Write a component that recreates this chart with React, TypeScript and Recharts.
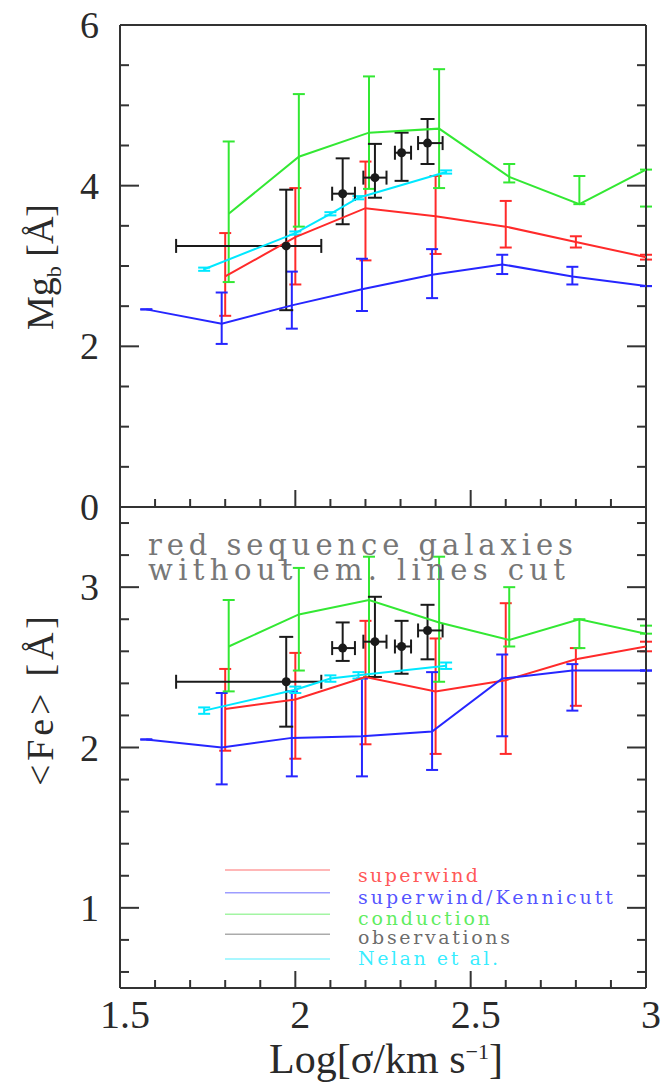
import React from "react";
import { ComposedChart, Scatter, ErrorBar, XAxis, YAxis, Label, Legend } from "recharts";

const W = 668;
const H = 1083;
const PLOT_LEFT = 120;
const PLOT_RIGHT = 646;

const FRAME = "#333";
const INK = "#2a2a2a";
const SERIF = "'Liberation Serif', 'DejaVu Serif', serif";
const PLOT_FONT = "'DejaVu Serif', serif";

const RED = "#ff2a2a";
const BLUE = "#2626ff";
const GREEN = "#33e833";
const CYAN = "#00e8ff";
const BLACK = "#1a1a1a";

// superwind model
const SW_X = [1.8, 2.0, 2.2, 2.4, 2.6, 2.8, 3.0];
const SW_MG = [2.87, 3.36, 3.72, 3.62, 3.49, 3.3, 3.11];
const SW_MG_LO = [2.38, 2.77, 3.07, 3.15, 3.23, 3.23, 3.08];
const SW_MG_HI = [3.41, 3.97, 4.3, 4.12, 3.81, 3.37, 3.14];
const SW_FE = [2.24, 2.3, 2.44, 2.35, 2.42, 2.55, 2.63];
const SW_FE_LO = [1.98, 1.93, 2.02, 1.96, 1.96, 2.26, 2.6];
const SW_FE_HI = [2.49, 2.59, 2.79, 2.68, 2.9, 2.62, 2.66];

// superwind + Kennicutt IMF
const SK_X = [1.575, 1.79, 1.99, 2.19, 2.39, 2.59, 2.79, 3.0];
const SK_MG = [2.46, 2.28, 2.51, 2.71, 2.89, 3.02, 2.87, 2.75];
const SK_MG_LO = [2.46, 2.03, 2.22, 2.44, 2.6, 2.9, 2.77, 2.75];
const SK_MG_HI = [2.46, 2.67, 2.93, 3.09, 3.21, 3.14, 2.99, 2.75];
const SK_FE = [2.05, 2.0, 2.06, 2.07, 2.1, 2.43, 2.48, 2.48];
const SK_FE_LO = [2.05, 1.77, 1.82, 1.82, 1.86, 2.07, 2.23, 2.48];
const SK_FE_HI = [2.05, 2.34, 2.35, 2.43, 2.47, 2.58, 2.52, 2.48];

// conduction model
const CD_X = [1.81, 2.01, 2.21, 2.41, 2.61, 2.81, 3.0];
const CD_MG = [3.65, 4.36, 4.66, 4.71, 4.11, 3.77, 4.2];
const CD_MG_LO = [2.8, 3.49, 3.96, 3.97, 4.04, 3.77, 3.74];
const CD_MG_HI = [4.55, 5.14, 5.36, 5.45, 4.27, 4.12, 4.2];
const CD_FE = [2.63, 2.83, 2.92, 2.78, 2.67, 2.8, 2.71];
const CD_FE_LO = [2.35, 2.48, 2.44, 2.41, 2.63, 2.62, 2.71];
const CD_FE_HI = [2.92, 3.12, 3.19, 3.19, 3.0, 2.8, 2.76];

// Nelan et al.
const NL_X = [1.74, 2.0, 2.1, 2.18, 2.43];
const NL_MG = [2.96, 3.41, 3.65, 3.85, 4.17];
const NL_MG_LO = [2.94, 3.39, 3.63, 3.83, 4.15];
const NL_MG_HI = [2.98, 3.43, 3.67, 3.87, 4.19];
const NL_FE = [2.23, 2.36, 2.43, 2.45, 2.51];
const NL_FE_LO = [2.21, 2.34, 2.41, 2.43, 2.49];
const NL_FE_HI = [2.25, 2.38, 2.45, 2.47, 2.53];

// observed red sequence
const OB_X = [1.974, 2.135, 2.227, 2.303, 2.377];
const OB_X_LO = [1.66, 2.105, 2.194, 2.284, 2.35];
const OB_X_HI = [2.074, 2.17, 2.26, 2.33, 2.42];
const OB_MG = [3.25, 3.9, 4.1, 4.41, 4.53];
const OB_MG_LO = [2.45, 3.52, 3.85, 4.06, 4.27];
const OB_MG_HI = [3.95, 4.34, 4.52, 4.66, 4.83];
const OB_FE = [2.41, 2.62, 2.66, 2.63, 2.73];
const OB_FE_LO = [2.13, 2.54, 2.44, 2.46, 2.55];
const OB_FE_HI = [2.69, 2.78, 2.94, 2.79, 2.89];

const X_DOMAIN: [number, number] = [1.5, 3];
const X_MAJOR = [1.5, 2, 2.5, 3];
const MG_DOMAIN: [number, number] = [0, 6];
const MG_MAJOR = [0, 2, 4, 6];
const FE_DOMAIN: [number, number] = [0.5, 3.5];
const FE_MAJOR = [1, 2, 3];

const LEGEND_NAMES = ["superwind", "superwind/Kennicutt", "conduction", "observations", "Nelan et al."];
const LEGEND_COLORS = [RED, BLUE, GREEN, "#444", CYAN];

function steps(from: number, to: number, step: number) {
  const out: number[] = [];
  for (let v = from; v <= to + 1e-9; v += step) out.push(Math.round(v * 100) / 100);
  return out;
}

const X_TICKS = steps(1.5, 3, 0.1);
const MG_TICKS = steps(0, 6, 0.5);
const FE_TICKS = steps(0.6, 3.4, 0.2);

type Row = { x: number; y: number; ey: number[]; ex?: number[] };

function rows(xs: number[], ys: number[], lo: number[], hi: number[], xlo?: number[], xhi?: number[]): Row[] {
  return xs.map((x, i) => ({
    x,
    y: ys[i],
    ey: [ys[i] - lo[i], hi[i] - ys[i]],
    ex: xlo && xhi ? [x - xlo[i], xhi[i] - x] : undefined,
  }));
}

type Series = { name: string; color: string; data: Row[] };

const MG_SERIES: Series[] = [
  { name: "superwind", color: RED, data: rows(SW_X, SW_MG, SW_MG_LO, SW_MG_HI) },
  { name: "superwind/Kennicutt", color: BLUE, data: rows(SK_X, SK_MG, SK_MG_LO, SK_MG_HI) },
  { name: "conduction", color: GREEN, data: rows(CD_X, CD_MG, CD_MG_LO, CD_MG_HI) },
  { name: "Nelan et al.", color: CYAN, data: rows(NL_X, NL_MG, NL_MG_LO, NL_MG_HI) },
];
const FE_SERIES: Series[] = [
  { name: "superwind", color: RED, data: rows(SW_X, SW_FE, SW_FE_LO, SW_FE_HI) },
  { name: "superwind/Kennicutt", color: BLUE, data: rows(SK_X, SK_FE, SK_FE_LO, SK_FE_HI) },
  { name: "conduction", color: GREEN, data: rows(CD_X, CD_FE, CD_FE_LO, CD_FE_HI) },
  { name: "Nelan et al.", color: CYAN, data: rows(NL_X, NL_FE, NL_FE_LO, NL_FE_HI) },
];
const MG_OBS = rows(OB_X, OB_MG, OB_MG_LO, OB_MG_HI, OB_X_LO, OB_X_HI);
const FE_OBS = rows(OB_X, OB_FE, OB_FE_LO, OB_FE_HI, OB_X_LO, OB_X_HI);

const AXIS_LINE = { stroke: FRAME, strokeWidth: 2 };

// eslint-disable-next-line @typescript-eslint/no-explicit-any
function XTick({ x, y, payload, dir, labels }: any) {
  const v = payload.value;
  const major = v === 2 || v === 2.5;
  const len = major ? 17 : 8;
  return (
    <g>
      <line x1={x} x2={x} y1={y} y2={y + dir * len} stroke={FRAME} strokeWidth={2} />
      {labels && X_MAJOR.includes(v) && (
        <text x={x + 5} y={y + 40} textAnchor="middle" fontFamily={SERIF} fontSize={40} fill={INK}>
          {String(v)}
        </text>
      )}
    </g>
  );
}

// eslint-disable-next-line @typescript-eslint/no-explicit-any
function YTick({ x, y, payload, dir, majors, labels }: any) {
  const v = payload.value;
  const major = majors.includes(v);
  const len = major ? 19 : 9;
  return (
    <g>
      <line x1={x} x2={x + dir * len} y1={y} y2={y} stroke={FRAME} strokeWidth={2} />
      {labels && major && (
        <text x={x - 21} y={y + 13} textAnchor="end" fontFamily={SERIF} fontSize={38} fill={INK}>
          {String(v)}
        </text>
      )}
    </g>
  );
}

function noDot() {
  return <g />;
}

// eslint-disable-next-line @typescript-eslint/no-explicit-any
function ObsDot({ cx, cy }: any) {
  return <circle cx={cx} cy={cy} r={4.5} fill={BLACK} />;
}

interface PanelProps {
  top: number;
  bottom: number;
  domain: [number, number];
  yTicks: number[];
  yMajor: number[];
  series: Series[];
  obs: Row[];
  xLabels?: boolean;
  title: React.ReactNode;
  extras?: React.ReactNode;
  legend?: boolean;
}

// axes are 1px thick so that they still render; margins absorb that pixel
function Panel({ top, bottom, domain, yTicks, yMajor, series, obs, xLabels, title, extras, legend }: PanelProps) {
  return (
    <div style={{ position: "absolute", left: 0, top: 0 }}>
      <ComposedChart
        width={W}
        height={H}
        margin={{ top: top - 1, bottom: H - bottom - 1, left: PLOT_LEFT - 1, right: W - PLOT_RIGHT - 1 }}
      >
        <XAxis
          dataKey="x"
          type="number"
          domain={X_DOMAIN}
          ticks={X_TICKS}
          interval={0}
          height={1}
          tickSize={0}
          tickMargin={0}
          allowDataOverflow
          axisLine={AXIS_LINE}
          tickLine={false}
          tick={(p) => <XTick {...p} dir={-1} labels={xLabels} />}
        >
          {extras}
        </XAxis>
        <XAxis
          xAxisId="top"
          orientation="top"
          type="number"
          domain={X_DOMAIN}
          ticks={X_TICKS}
          interval={0}
          height={1}
          tickSize={0}
          tickMargin={0}
          allowDataOverflow
          axisLine={AXIS_LINE}
          tickLine={false}
          tick={(p) => <XTick {...p} dir={1} />}
        />
        <YAxis
          dataKey="y"
          type="number"
          domain={domain}
          ticks={yTicks}
          interval={0}
          width={1}
          tickSize={0}
          tickMargin={0}
          allowDataOverflow
          axisLine={AXIS_LINE}
          tickLine={false}
          tick={(p) => <YTick {...p} dir={1} majors={yMajor} labels />}
        >
          <Label content={() => title} />
        </YAxis>
        <YAxis
          yAxisId="right"
          orientation="right"
          type="number"
          domain={domain}
          ticks={yTicks}
          interval={0}
          width={1}
          tickSize={0}
          tickMargin={0}
          allowDataOverflow
          axisLine={AXIS_LINE}
          tickLine={false}
          tick={(p) => <YTick {...p} dir={-1} majors={yMajor} />}
        />
        {series.map((s) => (
          <Scatter
            key={s.name}
            name={s.name}
            data={s.data}
            fill={s.color}
            line={{ stroke: s.color, strokeWidth: 2 }}
            shape={noDot}
            isAnimationActive={false}
          >
            <ErrorBar dataKey="ey" direction="y" width={6} stroke={s.color} strokeWidth={2} />
          </Scatter>
        ))}
        <Scatter name="observations" data={obs} fill={BLACK} shape={ObsDot} isAnimationActive={false}>
          <ErrorBar dataKey="ey" direction="y" width={7} stroke={BLACK} strokeWidth={2} />
          <ErrorBar dataKey="ex" direction="x" width={7} stroke={BLACK} strokeWidth={2} />
        </Scatter>
        {legend && (
          <Legend
            layout="vertical"
            align="center"
            verticalAlign="middle"
            wrapperStyle={{ left: 0, top: 0, width: W, height: H, pointerEvents: "none" }}
            content={() => <LegendBox />}
          />
        )}
      </ComposedChart>
    </div>
  );
}

function LegendBox() {
  const lineY = [870, 892.7, 914.3, 934.3, 959];
  const textY = [882, 904, 925, 944, 964.5];
  const widths = [120, 255, 132, 152, 140];
  return (
    <svg width={W} height={H} style={{ display: "block" }}>
      {LEGEND_NAMES.map((name, i) => (
        <g key={name}>
          <line x1={225} x2={330} y1={lineY[i]} y2={lineY[i]} stroke={LEGEND_COLORS[i]} strokeOpacity={0.45} strokeWidth={1.5} />
          <text
            x={358}
            y={textY[i]}
            fontFamily={PLOT_FONT}
            fontSize={19}
            fill={LEGEND_COLORS[i]}
            fillOpacity={0.8}
            textLength={widths[i]}
            lengthAdjust="spacing"
          >
            {name}
          </text>
        </g>
      ))}
    </svg>
  );
}

const mgTitle = (
  <text transform="translate(53 267) rotate(-90)" textAnchor="middle" fontFamily={SERIF} fontSize={38} fill={INK}>
    Mg
    <tspan dy={8} fontSize={22}>b</tspan>
    <tspan dy={-8}> [Å]</tspan>
  </text>
);

const feTitle = (
  <text
    transform="translate(53 701) rotate(-90)"
    textAnchor="middle"
    fontFamily={SERIF}
    fontSize={38}
    fill={INK}
    textLength={170}
    lengthAdjust="spacing"
  >
    {"<Fe> [Å]"}
  </text>
);

const bottomExtras = [
  <Label
    key="xt"
    content={() => (
      <text x={386} y={1073} textAnchor="middle" fontFamily={SERIF} fontSize={42} fill={INK}>
        Log[σ/km s<tspan dy={-14} fontSize={22}>−1</tspan>
        <tspan dy={14}>]</tspan>
      </text>
    )}
  />,
  <Label
    key="note"
    content={() => (
      <g fontFamily={PLOT_FONT} fontSize={29} fill="#777">
        <text x={148} y={555} textLength={425} lengthAdjust="spacing">
          red sequence galaxies
        </text>
        <text x={148} y={580} textLength={417} lengthAdjust="spacing">
          without em. lines cut
        </text>
      </g>
    )}
  />,
];

export default function App() {
  return (
    <div style={{ position: "absolute", left: 0, top: 0, width: W, height: H, background: "#fff" }}>
      <Panel
        top={25}
        bottom={507}
        domain={MG_DOMAIN}
        yTicks={MG_TICKS}
        yMajor={MG_MAJOR}
        series={MG_SERIES}
        obs={MG_OBS}
        title={mgTitle}
      />
      <Panel
        top={507}
        bottom={988}
        domain={FE_DOMAIN}
        yTicks={FE_TICKS}
        yMajor={FE_MAJOR}
        series={FE_SERIES}
        obs={FE_OBS}
        xLabels
        title={feTitle}
        extras={bottomExtras}
        legend
      />
    </div>
  );
}
